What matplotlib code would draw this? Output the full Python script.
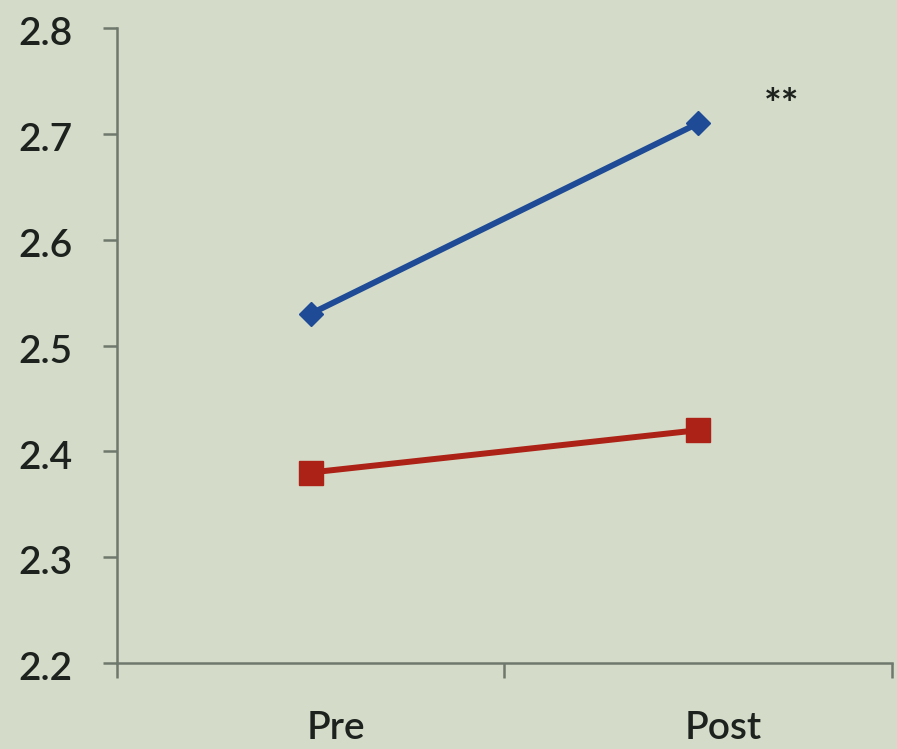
import matplotlib.pyplot as plt
from matplotlib.transforms import ScaledTranslation

# Data
phases = ["Pre", "Post"]
group_a = [2.53, 2.71]   # blue series
group_b = [2.38, 2.42]   # red series
y_ticks = [2.2, 2.3, 2.4, 2.5, 2.6, 2.7, 2.8]
sig_label = "**"

bg = "#d4dcc9"
axis_col = "#6f786d"
text_col = "#1e221e"

plt.rcParams["font.family"] = ["Lato", "DejaVu Sans"]

fig = plt.figure(figsize=(8.97, 7.49), dpi=100, facecolor=bg)
ax = fig.add_axes([0.1304, 0.1148, 0.8640, 0.8478], facecolor=bg)

x = list(range(len(phases)))
ax.plot(x, group_a, color="#1f4b96", linewidth=4.3, marker="D",
        markersize=12, solid_capstyle="round")
ax.plot(x, group_b, color="#ad2217", linewidth=4.3, marker="s",
        markersize=17)

# significance marker next to the Post value of the blue series
ax.annotate(sig_label, xy=(1, group_a[1]), xytext=(60, 12),
            textcoords="offset points", ha="center", va="center",
            fontsize=30, fontweight="bold", color=text_col)

ax.set_xlim(-0.5, 1.5)
ax.set_ylim(2.2, 2.8)
ax.set_yticks(y_ticks)
ax.set_yticklabels([f"{v:.1f}" for v in y_ticks])

# category boundaries get the ticks, labels sit between them
ax.set_xticks([-0.5, 0.5, 1.5])
ax.set_xticklabels([])
ax.set_xticks(x, minor=True)
ax.set_xticklabels(phases, minor=True)

for side in ["top", "right"]:
    ax.spines[side].set_visible(False)
for side in ["left", "bottom"]:
    ax.spines[side].set_color(axis_col)
    ax.spines[side].set_linewidth(1.8)

ax.tick_params(axis="y", which="major", direction="out", length=10,
               width=1.8, color=axis_col, pad=22, labelsize=28,
               labelcolor=text_col)
ax.tick_params(axis="x", which="major", direction="out", length=11,
               width=1.8, color=axis_col)
ax.tick_params(axis="x", which="minor", length=0, pad=34, labelsize=28,
               labelcolor=text_col)

for lbl in ax.get_yticklabels():
    lbl.set_fontweight("semibold")
    lbl.set_transform(lbl.get_transform() + ScaledTranslation(0, -2 / 72, fig.dpi_scale_trans))
for lbl in ax.get_xticklabels(minor=True):
    lbl.set_fontweight("semibold")
    lbl.set_transform(lbl.get_transform() + ScaledTranslation(18 / 72, 0, fig.dpi_scale_trans))

fig.savefig("out.png", dpi=100, facecolor=bg)
